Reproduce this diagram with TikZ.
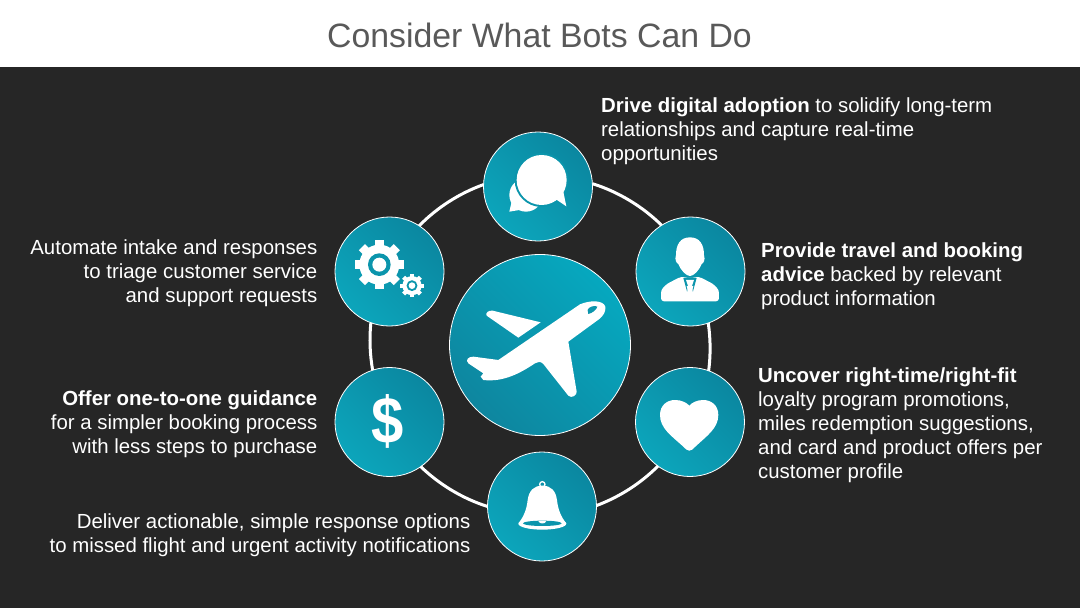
\documentclass[tikz,border=0pt]{standalone}
\usepackage{fontspec}
\setmainfont{Liberation Sans}
\definecolor{slatebg}{HTML}{262626}
\definecolor{titlegray}{HTML}{595959}
\definecolor{hublight}{HTML}{0CA5BB}
\definecolor{hubdark}{HTML}{0B87A0}
\definecolor{hubmid}{HTML}{0B95AC}
\definecolor{planelight}{HTML}{06A8BF}
\definecolor{planedark}{HTML}{0E869F}
\tikzset{
  hub/.style={circle,draw=white,line width=.8pt,minimum size=109pt,inner sep=0pt,outer sep=0pt,
              top color=hubdark,bottom color=hublight,shading angle=-45},
  bighub/.style={hub,minimum size=181pt,top color=planelight,bottom color=planedark,shading angle=-45},
  ringline/.style={draw=white,line width=3pt,looseness=.86},
  blurb/.style={font=\fontsize{20.4}{24.1}\selectfont,text=white,inner sep=0pt},
  blurbl/.style={blurb,anchor=west,align=left},
  blurbr/.style={blurb,anchor=east,align=right},
  icon/.style={x=.3333pt,y=-.3333pt}
}

\begin{document}
\begin{tikzpicture}[x=1pt,y=-1pt]
    \useasboundingbox (0,0) rectangle (1080,608);
    \fill[white] (0,0) rectangle (1080,67);
    \fill[slatebg] (0,67) rectangle (1080,608);

    \node[text=titlegray,font=\fontsize{33.8}{40}\selectfont] (title) at (539.5,35) {Consider What Bots Can Do};

    \node[bighub] (hubplane) at (540,345) {};
    \node[hub] (hubchat) at (538,186.5) {};
    \node[hub] (hubperson) at (690.5,271.5) {};
    \node[hub] (hubheart) at (690,422) {};
    \node[hub] (hubbell) at (542,506.5) {};
    \node[hub] (hubdollar) at (389.5,422) {};
    \node[hub] (hubgear) at (389.5,271.5) {};

    % ring pieces between the hubs
    \draw[ringline] (hubchat.3) to[bend left=13.5] (hubperson.122.8);
    \draw[ringline] (hubperson.289.2) to[bend left=7.9] (hubheart.70.8);
    \draw[ringline] (hubheart.234.8) to[bend left=12.2] (hubbell.1.5);
    \draw[ringline] (hubbell.180) to[bend left=13] (hubdollar.305.5);
    \draw[ringline] (hubdollar.108.7) to[bend left=7.9] (hubgear.250.8);
    \draw[ringline] (hubgear.57.2) to[bend left=12.9] (hubchat.178.4);

    \node[blurbl] (textchat) at (601,131.5) {\textbf{Drive digital adoption} to solidify long-term\\relationships and capture real-time\\opportunities};
    \node[blurbl] (textperson) at (761,276.5) {\textbf{Provide travel and booking}\\\textbf{advice} backed by relevant\\product information};
    \node[blurbl] (textheart) at (758,425.5) {\textbf{Uncover right-time/right-fit}\\loyalty program promotions,\\miles redemption suggestions,\\and card and product offers per\\customer profile};
    \node[blurbr] (textgear) at (317.5,273.5) {Automate intake and responses\\to triage customer service\\and support requests};
    \node[blurbr] (textdollar) at (317.5,424.5) {\textbf{Offer one-to-one guidance}\\for a simpler booking process\\with less steps to purchase};
    \node[blurbr] (textbell) at (470.5,535.5) {Deliver actionable, simple response options\\to missed flight and urgent activity notifications};

    % plane
    \begin{scope}[shift={(440,245)},icon]
        \fill[white] (420,178) .. controls (450,165) and (490,165) .. (496,185) .. controls (498,200) and (490,212) .. (478,222) -- (385,290) -- (410,440) .. controls (412,450) and (395,462) .. (385,452) -- (310,357) .. controls (302,348) and (292,350) .. (285,355) .. controls (240,385) and (190,412) .. (130,405) -- (122,395) -- (130,385) -- (85,355) .. controls (75,345) and (85,335) .. (100,335) -- (175,345) -- cycle;
        \fill[white] (302,232) -- (235,278) -- (140,212) .. controls (135,205) and (145,195) .. (158,197) -- cycle;
        \fill[hubmid] (443,195) .. controls (445,185) and (465,180) .. (472,185) .. controls (470,195) and (455,205) .. (445,207) -- cycle;
    \end{scope}

    % speech bubbles
    \begin{scope}[shift={(480,130)},icon]
        \fill[white] (138,195) circle (50);
        \fill[white] (95,215) -- (88,245) -- (130,238) -- cycle;
        \fill[hubmid] (185,150) circle (81);
        \fill[white] (185,150) circle (75);
        \fill[white] (228,208) -- (259,229) -- (248,175) -- cycle;
    \end{scope}

    % person
    \begin{scope}[shift={(620,210)},icon]
        \fill[white,rounded corners=3pt] (123,274) -- (123,240) -- (140,222) -- (183,200) -- (210,205) -- (237,200) -- (280,222) -- (297,240) -- (297,274) -- cycle;
        \fill[hubmid] (190,204) -- (230,204) -- (214,262) -- (206,262) -- cycle;
        \fill[white] (200,228) -- (220,228) -- (212,262) -- (208,262) -- cycle;
        \fill[white] (210,82) .. controls (180,82) and (168,105) .. (168,135) .. controls (163,150) and (170,160) .. (175,162) .. controls (182,180) and (198,198) .. (210,198) .. controls (222,198) and (238,180) .. (245,162) .. controls (250,160) and (257,150) .. (252,135) .. controls (252,105) and (240,82) .. (210,82) -- cycle;
        \fill[white] (198,210) -- (222,210) -- (215,230) -- (221,258) -- (210,272) -- (199,258) -- (205,230) -- cycle;
    \end{scope}

    % heart
    \begin{scope}[shift={(630,360)},icon]
        \fill[white] (178,272) .. controls (172,272) and (168,268) .. (160,260) .. controls (125,228) and (90,205) .. (90,165) .. controls (90,135) and (112,120) .. (135,120) .. controls (155,120) and (170,128) .. (178,137) .. controls (186,128) and (200,120) .. (220,120) .. controls (243,120) and (265,135) .. (265,165) .. controls (265,205) and (230,228) .. (196,260) .. controls (188,268) and (184,272) .. (178,272) -- cycle;
    \end{scope}

    % bell
    \begin{scope}[shift={(480,445)},icon]
        \draw[white,line width=1.3pt] (187,118) circle (8);
        \fill[white] (187,122) .. controls (160,122) and (147,138) .. (143,165) .. controls (140,195) and (130,215) .. (118,232) -- (256,232) .. controls (244,215) and (234,195) .. (231,165) .. controls (227,138) and (214,122) .. (187,122) -- cycle;
        \fill[white] (187,236) ellipse (72 and 18);
        \fill[hubmid] (187,235) ellipse (58 and 8);
        \fill[white] (175,228) .. controls (178,238) and (196,238) .. (199,228) -- cycle;
    \end{scope}

    \node[text=white,inner sep=0pt,xscale=.88,font=\bfseries\fontsize{66}{66}\selectfont] (dollarsign) at (387.5,421.7) {\$};

    % gears
    \begin{scope}[shift={(320,130)},icon]
        \foreach \gx/\gy/\gr in {178/404/1,276/467/.48} {
            \foreach \a in {0,45,...,135}
                \fill[white,shift={(\gx,\gy)},rotate=\a] (-13*\gr,-74*\gr) rectangle (13*\gr,74*\gr);
            \fill[white] (\gx,\gy) circle (60*\gr);
            \fill[hubmid] (\gx,\gy) circle (34*\gr);
            \fill[white] (\gx,\gy) circle (21*\gr);
        }
    \end{scope}
\end{tikzpicture}
\end{document}
